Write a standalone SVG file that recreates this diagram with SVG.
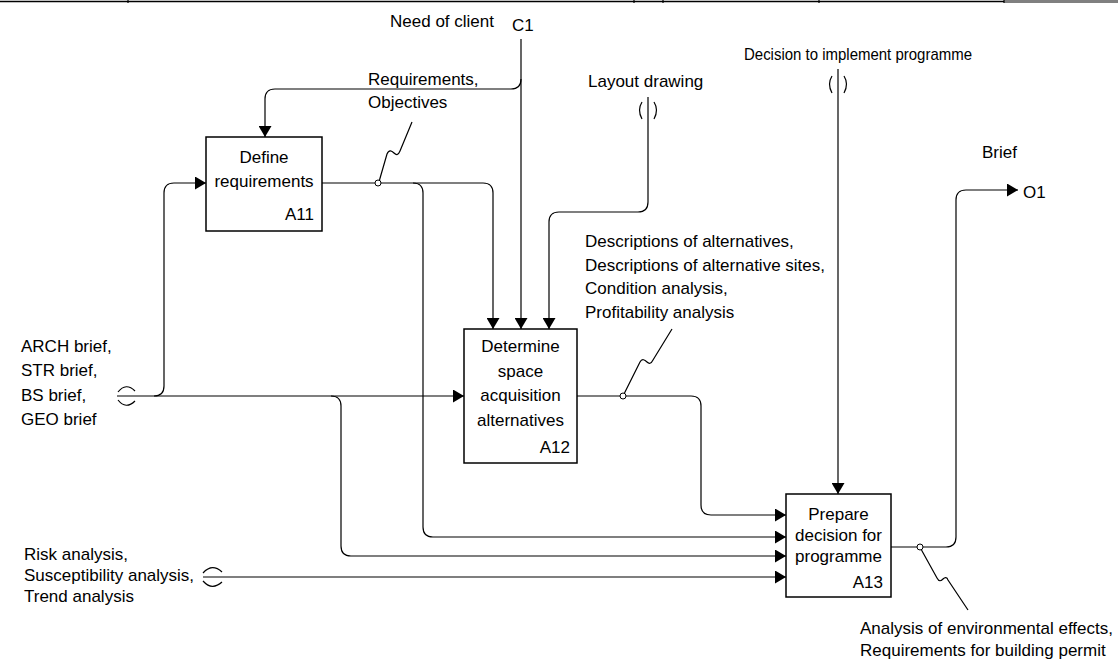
<svg xmlns="http://www.w3.org/2000/svg" width="1118" height="661" viewBox="0 0 1118 661">
  <style>
    text { font-family: "Liberation Sans", Arial, sans-serif; font-size: 17px; fill: #000; }
    .mid { text-anchor: middle; }
    .end { text-anchor: end; }
    .box { fill: #fff; stroke: #000; stroke-width: 1.5; }
    .ln { fill: none; stroke: #000; stroke-width: 1.2; }
    .arr { marker-end: url(#ah); }
    .dot { fill: #fff; stroke: #000; stroke-width: 1; }
  </style>
  <defs>
    <marker id="ah" markerWidth="12" markerHeight="13" refX="11" refY="6.5" orient="auto" markerUnits="userSpaceOnUse">
      <path d="M0,0 L11,6.5 L0,13 Z" fill="#000"/>
    </marker>
  </defs>

  <rect width="1118" height="661" fill="#fff"/>

  <!-- title strip along the top edge -->
  <g id="frame">
    <line x1="0" y1="1.5" x2="1004" y2="1.5" stroke="#000" stroke-width="1.5"/>
    <rect x="1004" y="0" width="114" height="3" fill="#808080"/>
    <g stroke="#000" stroke-width="1.2">
      <line x1="128" y1="0" x2="128" y2="3"/>
      <line x1="634" y1="0" x2="634" y2="3"/>
      <line x1="663" y1="0" x2="663" y2="3"/>
      <line x1="819" y1="0" x2="819" y2="3"/>
      <line x1="1004" y1="0" x2="1004" y2="3"/>
    </g>
  </g>

  <g id="connectors">
    <!-- C1 control: need of client -->
    <path class="ln arr" d="M521,39 V329"/>
    <path class="ln arr" d="M521,79 Q521,89 511,89 H275 Q265,89 265,99 V137"/>
    <!-- A11 output: requirements, objectives -->
    <path class="ln arr" d="M322,183 H483 Q493,183 493,193 V329"/>
    <path class="ln arr" d="M413,183 Q423,183 423,193 V527 Q423,537 433,537 H786"/>
    <circle class="dot" cx="378" cy="183" r="3"/>
    <path class="ln" d="M379.5,180 L387,154 C389,149 392,151 394,153 C396,155 398,156 400,151 L412,122"/>
    <!-- layout drawing -->
    <path class="ln arr" d="M648,97 V202 Q648,212 638,212 H559 Q549,212 549,222 V329"/>
    <path class="ln" d="M642,102 Q637,110 642,119"/>
    <path class="ln" d="M654,102 Q659,110 654,119"/>
    <!-- decision to implement programme -->
    <path class="ln arr" d="M838,69 V494"/>
    <path class="ln" d="M832,76 Q827,84 832,93"/>
    <path class="ln" d="M844,76 Q849,84 844,93"/>
    <!-- briefs input -->
    <path class="ln arr" d="M117,396 H464"/>
    <path class="ln arr" d="M154,396 Q164,396 164,386 V193 Q164,183 174,183 H206"/>
    <path class="ln arr" d="M331,396 Q341,396 341,406 V546 Q341,556 351,556 H786"/>
    <path class="ln" d="M118,392 Q126,382 135,391"/>
    <path class="ln" d="M118,400 Q126,410 135,401"/>
    <!-- A12 output: descriptions and analyses -->
    <path class="ln arr" d="M577,396 H691 Q701,396 701,406 V505 Q701,515 711,515 H786"/>
    <circle class="dot" cx="623" cy="396" r="3"/>
    <path class="ln" d="M624.5,393 L640,362 C642,358 645,360 647,362 C649,364 651,364 653,360 L672,329"/>
    <!-- risk analyses input -->
    <path class="ln arr" d="M203,577 H786"/>
    <path class="ln" d="M203,573 Q212,563 222,572"/>
    <path class="ln" d="M203,581 Q212,591 222,582"/>
    <!-- A13 output: brief -->
    <path class="ln arr" d="M891,547 H946 Q956,547 956,537 V200 Q956,190 966,190 H1018"/>
    <circle class="dot" cx="920" cy="547" r="3"/>
    <path class="ln" d="M921.5,550 L937,578 C939,582 941,581 943,579 C945,577 947,577 948,580 L968,610"/>
  </g>

  <g id="labels">
    <text class="end" x="494" y="27">Need of client</text>
    <text x="512" y="31">C1</text>
    <text x="368" y="85">Requirements,</text>
    <text x="368" y="108">Objectives</text>
    <text x="588" y="87">Layout drawing</text>
    <text x="744" y="60" textLength="228" lengthAdjust="spacingAndGlyphs">Decision to implement programme</text>
    <text x="982" y="158">Brief</text>
    <text x="1023" y="198">O1</text>
    <text x="585" y="247">Descriptions of alternatives,</text>
    <text x="585" y="271">Descriptions of alternative sites,</text>
    <text x="585" y="294">Condition analysis,</text>
    <text x="585" y="318">Profitability analysis</text>
    <text x="21" y="352">ARCH brief,</text>
    <text x="21" y="376">STR brief,</text>
    <text x="21" y="401">BS brief,</text>
    <text x="21" y="425">GEO brief</text>
    <text x="24" y="560">Risk analysis,</text>
    <text x="24" y="581">Susceptibility analysis,</text>
    <text x="24" y="602">Trend analysis</text>
    <text x="860" y="634">Analysis of environmental effects,</text>
    <text x="860" y="656">Requirements for building permit</text>
  </g>

  <g id="node-a11">
    <rect class="box" x="206" y="137" width="116" height="94"/>
    <text class="mid" x="264" y="163">Define</text>
    <text class="mid" x="264" y="187">requirements</text>
    <text class="end" x="314" y="220">A11</text>
  </g>

  <g id="node-a12">
    <rect class="box" x="464" y="329" width="113" height="134"/>
    <text class="mid" x="520.5" y="352">Determine</text>
    <text class="mid" x="520.5" y="377">space</text>
    <text class="mid" x="520.5" y="401">acquisition</text>
    <text class="mid" x="520.5" y="426">alternatives</text>
    <text class="end" x="570" y="453">A12</text>
  </g>

  <g id="node-a13">
    <rect class="box" x="786" y="494" width="105" height="103"/>
    <text class="mid" x="838.5" y="520">Prepare</text>
    <text class="mid" x="838.5" y="541">decision for</text>
    <text class="mid" x="838.5" y="562">programme</text>
    <text class="end" x="883" y="588">A13</text>
  </g>
</svg>
